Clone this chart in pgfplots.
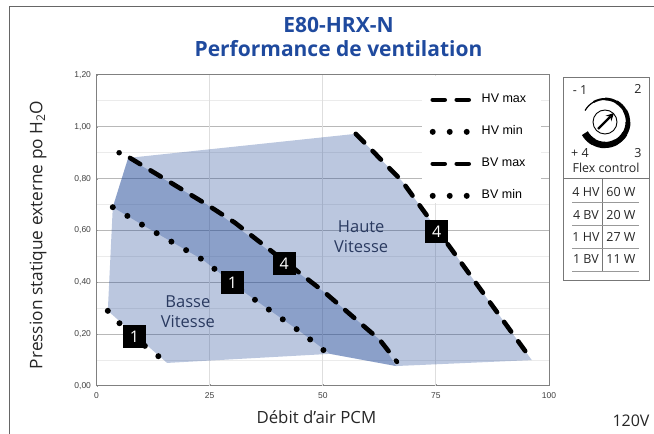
\documentclass[border=0pt]{standalone}
\usepackage{pgfplots}
\pgfplotsset{compat=1.18}
\usepackage{fontspec}
\setmainfont{Open Sans}
\newfontfamily\arial{Liberation Sans}
\definecolor{titleblue}{HTML}{1F4A9E}
\definecolor{regionblue}{HTML}{1E4696}
\definecolor{regiontext}{HTML}{2A3A60}
\definecolor{panelline}{HTML}{777777}
\begin{document}
\begin{tikzpicture}[x=1pt,y=1pt]
\useasboundingbox (0,0) rectangle (654,434);
% outer frame
\draw[color=black!60,line width=1pt] (9,0) -- (9,427) -- (654,427);
% titles
\node[text=titleblue,font=\fontsize{21}{25}\selectfont\bfseries,align=center] at (338.5,397.5) {E80-HRX-N\\[-1pt]Performance de ventilation};
\begin{axis}[
  at={(96.5pt,48pt)},anchor=south west,
  scale only axis,width=452.5pt,height=311pt,
  xmin=0,xmax=100,ymin=0,ymax=1.2,
  xtick={0,25,50,75,100},
  ytick={0,0.2,0.4,0.6,0.8,1,1.2},
  minor ytick={0.1,0.3,0.5,0.7,0.9,1.1},
  grid=both,
  major grid style={draw=black!28,line width=1pt},
  minor grid style={draw=black!8,line width=1pt},
  xmajorgrids=false,
  extra x ticks={25,50,75},
  extra x tick labels={},
  extra x tick style={xmajorgrids=true,major grid style={draw=black!13,line width=.8pt},major tick length=0pt},
  axis line style={draw=black!50,line width=1pt},
  major tick length=2pt,
  tick style={draw=black!40},
  minor tick length=0pt,
  xtick pos=bottom,ytick pos=left,
  tick label style={font=\arial\fontsize{8.5}{9}\selectfont,text=black!75},
  /pgf/number format/assume math mode=true,
  yticklabel style={xshift=-2pt,/pgf/number format/.cd,use comma,fixed,fixed zerofill,precision=2},
  xticklabel style={yshift=-3pt,/pgf/number format/.cd,fixed,precision=0},
  xlabel={Débit d’air PCM},
  ylabel={Pression statique externe po H\textsubscript{2}O},
  xlabel style={at={(axis description cs:0.486,-0.101)},anchor=center,font=\fontsize{16.8}{20}\selectfont,text=black!85},
  ylabel style={at={(axis description cs:-0.129,0.486)},anchor=center,font=\fontsize{17.3}{20}\selectfont,text=black!85},
  legend style={at={(axis cs:73.6,1.128)},anchor=north west,draw=none,fill=none,inner sep=0pt,
    row sep=20pt,font=\arial\fontsize{12.5}{14}\selectfont,
    nodes={text height=9pt,text depth=3pt,inner sep=0pt}},
  legend cell align=left,
  legend image code/.code={\draw[#1] (0pt,0pt) -- (42pt,0pt);\path (46pt,0pt);},
  dashline/.style={black,line width=4.6pt,line cap=round,line join=round,dash pattern=on 12pt off 12pt,mark=none},
  dotline/.style={black,line width=6pt,line cap=round,line join=round,dash pattern=on 0pt off 17pt,mark=none},
]
% white legend panel
\addplot[forget plot,draw=none,fill=white] coordinates {(71.9,0.705)(98.3,0.705)(98.3,1.195)(71.9,1.195)} -- cycle;
% region: overall envelope
\addplot[forget plot,draw=none,fill=regionblue,fill opacity=0.30] coordinates {
  (2.5,0.29)(3.6,0.69)(7.0,0.88)(57.3,0.973)(67.5,0.791)(96.2,0.10)(66.2,0.077)(51.6,0.124)(15.6,0.089)
} -- cycle;
% region: overlap
\addplot[forget plot,draw=none,fill=regionblue,fill opacity=0.30] coordinates {
  (3.6,0.69)(7.0,0.88)(24.4,0.70)(50.5,0.36)(62.6,0.178)(66.2,0.077)(51.6,0.124)(45.4,0.205)(32.8,0.36)(23.5,0.487)(10.3,0.62)
} -- cycle;
% HV max
\addplot[dashline] coordinates {(57.3,0.973)(67.5,0.791)(96.2,0.10)};
\addlegendentry{HV max}
% HV min
\addplot[dotline] coordinates {(3.6,0.69)(10.3,0.62)(23.5,0.487)(32.8,0.36)(45.4,0.205)(51.2,0.124)};
\addlegendentry{HV min}
% BV max
\addplot[dashline] coordinates {(7.4,0.88)(24.4,0.70)(30.6,0.63)(50.5,0.36)(62.6,0.178)(66.4,0.093)};
\addlegendentry{BV max}
% BV min
\addplot[dotline] coordinates {(2.5,0.29)(5.2,0.24)(11.2,0.147)(15.6,0.09)};
\addlegendentry{BV min}
% lone dot at the start of BV max
\addplot[forget plot,only marks,mark=*,mark size=2.5pt,black] coordinates {(5,0.90)};
% region labels
\node[text=regiontext,font=\fontsize{16.5}{20}\selectfont,align=center] at (axis cs:20.2,0.286) {Basse\\Vitesse};
\node[text=regiontext,font=\fontsize{16.5}{20}\selectfont,align=center] at (axis cs:58.5,0.575) {Haute\\Vitesse};
% speed boxes
\foreach \px/\py/\lab in {8.4/0.191/1,30.05/0.40/1,41.5/0.473/4,75.2/0.596/4}{
  \edef\tmp{\noexpand\node[fill=black,text=white,minimum size=23pt,inner sep=0pt,font=\noexpand\fontsize{16}{18}\noexpand\selectfont] at (axis cs:\px,\py) {\lab};}
  \tmp
}
\end{axis}
% 120V
\node[font=\fontsize{16}{18}\selectfont,text=black!85] at (631,13) {120V};
% Flex control panel
\draw[panelline,line width=.8pt] (563,154) rectangle (649.5,357);
\draw[panelline,line width=.8pt] (563,256) -- (649.5,256);
\draw[panelline,line width=.6pt] (602,256) -- (602,163);
\foreach \yy in {232,209,186,163}{\draw[black!40,line width=.6pt] (572,\yy) -- (639,\yy);}
\tikzset{panel/.style={font=\fontsize{12.5}{15}\selectfont,text=black!85,inner sep=0pt}}
\node[panel] at (586,242) {4 HV}; \node[panel] at (621,242) {60 W};
\node[panel] at (586,219) {4 BV}; \node[panel] at (621,219) {20 W};
\node[panel] at (586,197) {1 HV}; \node[panel] at (621,197) {27 W};
\node[panel] at (586,175) {1 BV}; \node[panel] at (621,175) {11 W};
\node[panel] at (580,344) {- 1};
\node[panel] at (638,345) {2};
\node[panel] at (580,281) {+ 4};
\node[panel] at (638,281) {3};
\node[panel,font=\fontsize{12.4}{15}\selectfont] at (606,266) {Flex control};
% dial
\begin{scope}[shift={(605,312)}]
  \draw[black,line width=.9pt] (0,0) circle (12);
  \draw[black,line width=2.4pt,-stealth] (-7,-7) -- (9,9);
  \foreach \a/\w in {150/1.2,120/2,90/2.8,60/3.6,30/4.3,0/5,-30/5.6,-60/6.1,-90/6.5,-120/7}{
    \draw[black,line width=\w pt] (\a:23) arc[start angle=\a,delta angle=-31,radius=23];
  }
\end{scope}
\end{tikzpicture}
\end{document}
